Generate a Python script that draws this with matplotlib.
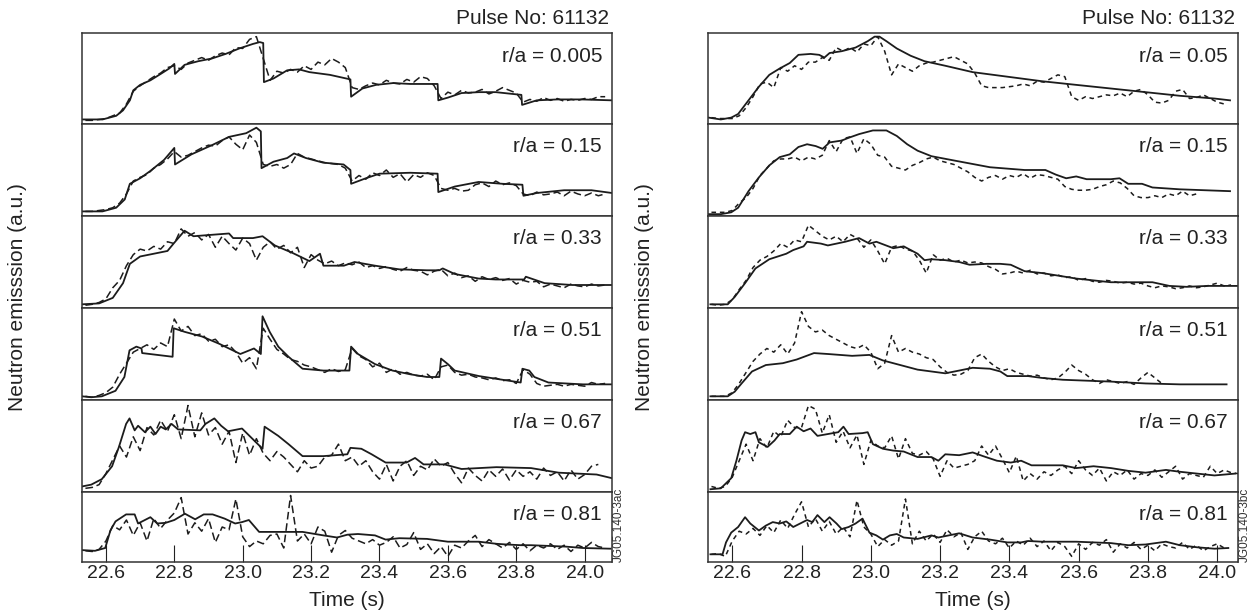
import matplotlib
matplotlib.use("Agg")
import matplotlib.pyplot as plt

plt.rcParams['font.family'] = ['Liberation Sans', 'DejaVu Sans']

# measured signal sampling times (s)
meas_time = [22.54, 22.56, 22.58, 22.60, 22.62, 22.64, 22.66, 22.68, 22.70, 22.72,
             22.74, 22.76, 22.78, 22.80, 22.82, 22.84, 22.86, 22.88, 22.90, 22.92,
             22.94, 22.96, 22.98, 23.00, 23.02, 23.04, 23.06, 23.08, 23.10, 23.12,
             23.14, 23.16, 23.18, 23.20, 23.22, 23.24, 23.26, 23.28, 23.30, 23.32,
             23.34, 23.36, 23.38, 23.40, 23.42, 23.44, 23.46, 23.48, 23.50, 23.52,
             23.54, 23.56, 23.58, 23.60, 23.62, 23.64, 23.66, 23.68, 23.70, 23.72,
             23.74, 23.76, 23.78, 23.80, 23.82, 23.84, 23.86, 23.88, 23.90, 23.92,
             23.94, 23.96, 23.98, 24.00, 24.02, 24.04, 24.06]

radii_left = ["0.005", "0.15", "0.33", "0.51", "0.67", "0.81"]
radii_right = ["0.05", "0.15", "0.33", "0.51", "0.67", "0.81"]

# ---- left: measured (dashed) ----
left_meas_005 = [4, 4, 5, 6, 9, 12, 22, 36, 42, 47,
                 52, 56, 62, 64, 60, 67, 70, 73, 70, 75,
                 78, 76, 84, 83, 93, 96, 72, 48, 58, 56,
                 60, 57, 64, 60, 68, 65, 72, 68, 62, 40,
                 38, 42, 45, 43, 48, 45, 44, 49, 46, 52,
                 50, 42, 28, 35, 32, 37, 34, 35, 38, 33,
                 36, 40, 37, 34, 24, 27, 25, 29, 26, 28,
                 25, 27, 26, 28, 27, 30, 30]
left_meas_015 = [5, 5, 6, 7, 9, 14, 24, 38, 42, 45,
                 52, 56, 62, 70, 64, 66, 70, 74, 77, 76,
                 82, 86, 78, 72, 88, 80, 56, 54, 56, 52,
                 56, 68, 64, 62, 60, 58, 57, 56, 52, 38,
                 44, 40, 47, 44, 50, 42, 46, 37, 45, 42,
                 47, 44, 30, 28, 30, 27, 28, 34, 36, 32,
                 38, 34, 36, 33, 24, 22, 26, 23, 24, 26,
                 22, 27, 24, 22, 25, 22, 24]
left_meas_033 = [3, 4, 6, 10, 22, 30, 46, 58, 64, 62,
                 67, 64, 72, 70, 86, 78, 82, 74, 80, 66,
                 78, 70, 63, 76, 70, 52, 66, 72, 64, 68,
                 60, 66, 44, 58, 52, 48, 51, 46, 49, 47,
                 50, 44, 46, 43, 45, 42, 40, 44, 41, 40,
                 36, 40, 42, 35, 38, 33, 35, 29, 34, 31,
                 33, 30, 32, 26, 30, 28, 29, 23, 26, 24,
                 22, 26, 24, 23, 26, 24, 25]
left_meas_051 = [4, 3, 5, 8, 14, 28, 40, 52, 56, 60,
                 55, 62, 58, 88, 75, 80, 70, 72, 64, 66,
                 58, 60, 52, 40, 46, 34, 78, 66, 55, 50,
                 44, 42, 38, 36, 33, 30, 34, 31, 33, 56,
                 48, 44, 36, 40, 30, 34, 28, 30, 27, 26,
                 28, 22, 36, 38, 30, 27, 28, 25, 24, 22,
                 24, 21, 22, 18, 33, 28, 18, 15, 16, 17,
                 15, 17, 16, 15, 19, 17, 18]
left_meas_067 = [4, 5, 8, 20, 35, 50, 38, 60, 45, 70,
                 62, 78, 66, 84, 58, 94, 60, 86, 62, 70,
                 52, 66, 32, 64, 40, 58, 42, 34, 44, 38,
                 30, 22, 34, 26, 28, 38, 40, 52, 34, 38,
                 28, 34, 22, 14, 30, 12, 28, 34, 18, 28,
                 24, 36, 28, 32, 20, 10, 26, 18, 12, 24,
                 17, 25, 13, 24, 17, 22, 14, 26, 18, 22,
                 12, 24, 14, 19, 28, 30]
left_meas_081 = [16, 15, 18, 30, 52, 46, 60, 38, 56, 30,
                 62, 48, 60, 70, 92, 40, 56, 44, 62, 28,
                 50, 46, 90, 36, 22, 30, 26, 38, 40, 20,
                 95, 30, 40, 26, 50, 44, 14, 38, 45, 34,
                 30, 26, 32, 24, 28, 36, 20, 25, 42, 18,
                 26, 12, 22, 8, 24, 20, 30, 38, 22, 32,
                 26, 20, 28, 18, 26, 16, 24, 20, 26, 18,
                 24, 15, 24, 20, 28, 22, 20]

# ---- left: simulated (solid) ----
left_sim_t_005 = [22.53, 22.59, 22.63, 22.65, 22.67, 22.68, 22.70, 22.73, 22.76, 22.785,
                  22.80, 22.802, 22.83, 22.87, 22.91, 22.95, 22.99, 23.03, 23.05, 23.06,
                  23.062, 23.09, 23.13, 23.165, 23.195, 23.255, 23.315, 23.317, 23.35, 23.39,
                  23.44, 23.49, 23.57, 23.572, 23.60, 23.64, 23.69, 23.74, 23.815, 23.817,
                  23.86, 23.92, 23.99, 24.08]
left_sim_005 = [5, 5, 9, 15, 26, 37, 43, 48, 55, 61,
                66, 55, 65, 69, 72, 77, 83, 88, 90, 89,
                46, 50, 59, 60, 57, 54, 49, 30, 39, 43,
                45, 44, 44, 26, 29, 34, 35, 35, 32, 21,
                26, 27, 27, 26]
left_sim_t_015 = [22.53, 22.59, 22.63, 22.655, 22.67, 22.70, 22.73, 22.77, 22.80, 22.802,
                  22.85, 22.91, 22.96, 23.01, 23.04, 23.053, 23.055, 23.09, 23.13, 23.15,
                  23.185, 23.235, 23.295, 23.315, 23.317, 23.36, 23.40, 23.49, 23.57, 23.572,
                  23.62, 23.69, 23.76, 23.818, 23.821, 23.86, 23.94, 24.02, 24.08]
left_sim_015 = [5, 5, 9, 18, 35, 41, 49, 61, 74, 56,
                67, 77, 86, 90, 96, 92, 52, 59, 63, 68,
                63, 58, 56, 50, 35, 41, 46, 47, 46, 26,
                32, 37, 35, 34, 22, 25, 28, 28, 25]
left_sim_t_033 = [22.53, 22.58, 22.62, 22.65, 22.67, 22.70, 22.74, 22.78, 22.80, 22.83,
                  22.856, 22.89, 22.96, 22.972, 23.03, 23.058, 23.094, 23.145, 23.195, 23.226,
                  23.236, 23.296, 23.327, 23.387, 23.458, 23.539, 23.575, 23.585, 23.62, 23.69,
                  23.74, 23.823, 23.828, 23.883, 23.964, 24.08]
left_sim_033 = [4, 5, 11, 27, 48, 56, 59, 62, 71, 84,
                78, 79, 81, 76, 76, 78, 68, 60, 51, 59,
                46, 46, 50, 46, 42, 41, 41, 43, 37, 32,
                31, 31, 34, 27, 25, 25]
left_sim_t_051 = [22.53, 22.557, 22.588, 22.628, 22.654, 22.669, 22.689, 22.704, 22.706, 22.795,
                  22.798, 22.831, 22.881, 22.932, 22.993, 23.033, 23.053, 23.058, 23.079, 23.104,
                  23.134, 23.175, 23.236, 23.312, 23.317, 23.337, 23.387, 23.438, 23.489, 23.539,
                  23.575, 23.58, 23.60, 23.62, 23.691, 23.742, 23.813, 23.818, 23.838, 23.853,
                  23.894, 23.995, 24.08]
left_sim_051 = [4, 3, 4, 10, 25, 54, 58, 56, 51, 47,
                78, 74, 69, 61, 50, 56, 50, 91, 74, 58,
                47, 34, 32, 32, 58, 50, 39, 32, 28, 25,
                25, 45, 39, 32, 26, 23, 19, 34, 32, 25,
                19, 17, 17]
left_sim_t_067 = [22.53, 22.557, 22.588, 22.618, 22.638, 22.659, 22.669, 22.684, 22.694, 22.714,
                  22.73, 22.745, 22.76, 22.775, 22.792, 22.811, 22.876, 22.891, 22.917, 22.937,
                  22.957, 22.998, 23.058, 23.064, 23.104, 23.134, 23.175, 23.236, 23.306, 23.315,
                  23.347, 23.377, 23.418, 23.479, 23.504, 23.529, 23.59, 23.64, 23.742, 23.843,
                  23.924, 24.035, 24.08]
left_sim_067 = [6, 8, 14, 28, 49, 74, 80, 67, 72, 65,
                71, 63, 71, 68, 74, 68, 67, 74, 80, 72,
                66, 69, 47, 71, 61, 52, 39, 39, 41, 48,
                47, 41, 32, 32, 37, 30, 30, 25, 27, 26,
                21, 19, 15]
left_sim_t_081 = [22.53, 22.568, 22.598, 22.613, 22.628, 22.659, 22.684, 22.694, 22.73, 22.75,
                  22.775, 22.80, 22.831, 22.861, 22.886, 22.912, 22.947, 22.978, 22.998, 23.018,
                  23.048, 23.094, 23.175, 23.236, 23.276, 23.306, 23.337, 23.387, 23.418, 23.458,
                  23.539, 23.60, 23.691, 23.742, 23.772, 23.813, 23.843, 23.894, 23.944, 23.995,
                  24.076]
left_sim_081 = [17, 16, 20, 45, 58, 68, 68, 55, 64, 55,
                56, 60, 69, 61, 68, 68, 62, 55, 57, 60,
                43, 43, 43, 38, 35, 39, 40, 38, 32, 34,
                33, 29, 29, 26, 25, 24, 24, 23, 22, 20,
                19]

# ---- right: measured (dashed) ----
right_meas_005 = [7, 6, 6, 6, 9, 18, 30, 44, 46, 40,
                  62, 58, 64, 60, 68, 68, 73, 70, 84, 80,
                  84, 79, 88, 86, 96, 80, 54, 66, 62, 58,
                  64, 67, 68, 70, 72, 74, 70, 66, 56, 42,
                  40, 40, 40, 41, 42, 44, 42, 47, 46, 50,
                  54, 52, 30, 26, 30, 28, 30, 32, 31, 34,
                  30, 36, 38, 32, 24, 23, 26, 36, 38, 28,
                  29, 32, 28, 24, 22]
right_meas_015 = [4, 4, 4, 6, 14, 20, 30, 44, 52, 60,
                  62, 62, 64, 60, 64, 62, 66, 82, 70, 84,
                  86, 68, 84, 78, 66, 64, 54, 52, 50, 55,
                  58, 62, 64, 60, 58, 56, 52, 48, 42, 38,
                  42, 44, 40, 44, 42, 46, 41, 45, 44, 42,
                  40, 32, 29, 28, 28, 29, 32, 34, 38, 36,
                  30, 22, 20, 20, 22, 20, 24, 22, 27, 22,
                  24]
right_meas_033 = [4, 3, 4, 9, 20, 30, 44, 52, 56, 62,
                  70, 66, 74, 72, 90, 84, 78, 74, 78, 72,
                  80, 76, 66, 74, 62, 48, 66, 68, 64, 62,
                  52, 38, 58, 52, 54, 50, 52, 49, 50, 49,
                  45, 42, 37, 38, 40, 38, 41, 37, 38, 35,
                  36, 33, 34, 30, 32, 29, 28, 30, 29, 27,
                  28, 26, 27, 24, 22, 24, 23, 21, 22, 24,
                  22, 23, 25, 27, 24, 25]
right_meas_051 = [4, 4, 4, 8, 18, 30, 42, 50, 56, 52,
                  60, 50, 62, 96, 80, 74, 76, 70, 66, 62,
                  58, 56, 60, 52, 34, 40, 70, 52, 56, 52,
                  50, 46, 44, 36, 30, 27, 28, 32, 46, 50,
                  42, 36, 32, 34, 30, 28, 26, 27, 24, 22,
                  24, 30, 38, 32, 28, 22, 18, 22, 20, 18,
                  20, 17, 24, 30, 24, 18]
right_meas_067 = [6, 4, 6, 16, 34, 52, 34, 58, 48, 66,
                  60, 78, 70, 70, 94, 90, 64, 84, 54, 66,
                  48, 62, 30, 56, 50, 48, 61, 36, 58, 42,
                  40, 44, 36, 17, 34, 26, 28, 30, 34, 50,
                  40, 50, 36, 21, 39, 12, 20, 14, 22, 18,
                  24, 28, 20, 34, 24, 18, 26, 12, 22, 18,
                  24, 14, 20, 18, 24, 16, 22, 28, 14, 20,
                  18, 16, 28, 20, 24, 21, 20]
right_meas_081 = [11, 12, 8, 30, 44, 40, 48, 38, 52, 42,
                  60, 48, 68, 86, 50, 62, 44, 58, 40, 50,
                  36, 88, 50, 40, 22, 32, 24, 30, 90, 26,
                  44, 30, 40, 28, 46, 36, 42, 18, 36, 44,
                  30, 26, 34, 20, 30, 24, 34, 22, 30, 16,
                  28, 22, 8, 26, 18, 28, 24, 32, 14, 26,
                  20, 28, 18, 24, 16, 26, 22, 20, 28, 18,
                  24, 16, 22, 26, 20]

# ---- right: simulated (solid) ----
right_sim_t_005 = [22.532, 22.567, 22.597, 22.617, 22.647, 22.677, 22.707, 22.737, 22.766, 22.791,
                   22.826, 22.851, 22.866, 22.881, 22.916, 22.956, 22.991, 23.011, 23.025, 23.045,
                   23.075, 23.115, 23.155, 23.215, 23.294, 23.394, 23.494, 23.593, 23.693, 23.793,
                   23.892, 23.992, 24.037]
right_sim_005 = [7, 5, 7, 11, 26, 41, 54, 61, 67, 76,
                 77, 76, 73, 78, 80, 84, 91, 96, 96, 91,
                 83, 75, 69, 64, 57, 52, 47, 43, 39, 35,
                 31, 28, 26]
right_sim_t_015 = [22.532, 22.567, 22.597, 22.617, 22.647, 22.677, 22.707, 22.737, 22.766, 22.791,
                   22.816, 22.841, 22.861, 22.881, 22.916, 22.936, 22.966, 23.006, 23.045, 23.075,
                   23.105, 23.135, 23.175, 23.245, 23.344, 23.444, 23.504, 23.534, 23.564, 23.593,
                   23.623, 23.693, 23.718, 23.743, 23.783, 23.813, 23.892, 24.037]
right_sim_015 = [2, 2, 4, 9, 27, 42, 55, 64, 67, 75,
                 78, 76, 73, 80, 82, 85, 89, 93, 93, 87,
                 78, 71, 65, 60, 53, 50, 50, 45, 41, 43,
                 40, 40, 41, 35, 35, 31, 29, 27]
right_sim_t_033 = [22.537, 22.587, 22.607, 22.637, 22.667, 22.707, 22.756, 22.776, 22.806, 22.816,
                   22.856, 22.876, 22.926, 22.966, 22.996, 23.016, 23.065, 23.095, 23.135, 23.155,
                   23.175, 23.215, 23.255, 23.285, 23.334, 23.374, 23.404, 23.444, 23.494, 23.544,
                   23.593, 23.643, 23.693, 23.753, 23.813, 23.862, 23.912, 23.972, 24.057]
right_sim_033 = [4, 4, 12, 27, 43, 53, 59, 63, 67, 72,
                 70, 68, 72, 76, 70, 72, 65, 67, 59, 52,
                 53, 52, 50, 47, 48, 48, 47, 40, 38, 35,
                 32, 30, 28, 28, 28, 24, 23, 24, 24]
right_sim_t_051 = [22.537, 22.587, 22.607, 22.627, 22.657, 22.697, 22.746, 22.786, 22.836, 22.876,
                   22.946, 22.996, 23.035, 23.075, 23.135, 23.215, 23.255, 23.294, 23.344, 23.374,
                   23.394, 23.454, 23.494, 23.554, 23.693, 23.793, 23.892, 24.027]
right_sim_051 = [4, 4, 9, 18, 31, 38, 40, 44, 51, 50,
                 48, 49, 43, 39, 33, 29, 32, 35, 34, 31,
                 26, 26, 24, 22, 20, 18, 17, 17]
right_sim_t_067 = [22.537, 22.567, 22.597, 22.612, 22.627, 22.637, 22.652, 22.667, 22.677, 22.702,
                   22.722, 22.737, 22.766, 22.786, 22.806, 22.826, 22.846, 22.876, 22.906, 22.921,
                   22.936, 22.976, 22.991, 23.006, 23.035, 23.065, 23.095, 23.135, 23.175, 23.195,
                   23.215, 23.255, 23.294, 23.324, 23.364, 23.404, 23.434, 23.464, 23.494, 23.554,
                   23.593, 23.643, 23.693, 23.743, 23.793, 23.852, 23.892, 23.942, 23.992, 24.052]
right_sim_067 = [3, 4, 15, 34, 56, 65, 63, 65, 54, 49,
                 56, 63, 63, 71, 66, 69, 61, 63, 65, 71,
                 63, 64, 65, 52, 47, 45, 44, 38, 38, 34,
                 41, 40, 43, 39, 34, 32, 34, 29, 29, 29,
                 26, 28, 26, 23, 21, 24, 22, 20, 18, 20]
right_sim_t_081 = [22.537, 22.572, 22.582, 22.597, 22.617, 22.637, 22.652, 22.677, 22.697, 22.717,
                   22.737, 22.756, 22.776, 22.796, 22.816, 22.831, 22.846, 22.866, 22.881, 22.901,
                   22.916, 22.936, 22.956, 22.976, 22.996, 23.016, 23.035, 23.055, 23.075, 23.095,
                   23.135, 23.175, 23.195, 23.235, 23.255, 23.294, 23.344, 23.394, 23.434, 23.454,
                   23.494, 23.593, 23.643, 23.693, 23.743, 23.793, 23.852, 23.892, 23.942, 23.992,
                   24.032]
right_sim_081 = [11, 11, 28, 42, 50, 64, 55, 45, 52, 57,
                 55, 58, 50, 55, 60, 57, 67, 57, 64, 55,
                 47, 50, 55, 62, 42, 38, 32, 38, 40, 35,
                 33, 38, 35, 39, 41, 35, 32, 28, 28, 30,
                 29, 29, 28, 27, 24, 25, 29, 24, 21, 19,
                 20]

left_meas = [left_meas_005, left_meas_015, left_meas_033, left_meas_051, left_meas_067, left_meas_081]
left_sim_t = [left_sim_t_005, left_sim_t_015, left_sim_t_033, left_sim_t_051, left_sim_t_067, left_sim_t_081]
left_sim = [left_sim_005, left_sim_015, left_sim_033, left_sim_051, left_sim_067, left_sim_081]
right_meas = [right_meas_005, right_meas_015, right_meas_033, right_meas_051, right_meas_067, right_meas_081]
right_sim_t = [right_sim_t_005, right_sim_t_015, right_sim_t_033, right_sim_t_051, right_sim_t_067, right_sim_t_081]
right_sim = [right_sim_005, right_sim_015, right_sim_033, right_sim_051, right_sim_067, right_sim_081]

time_ticks = [22.6, 22.8, 23.0, 23.2, 23.4, 23.6, 23.8, 24.0]

W, H = 1260, 614
ink = '#1c1c1c'
fig = plt.figure(figsize=(W / 100, H / 100), dpi=100)

# panel edges in pixels (top of each row, plus bottom)
rows_px = [33, 124, 216, 308, 400, 492, 562]


def draw_side(x0, x1, xlim, radii, meas, sim_t, sim, dash, tag):
    axes = []
    for i in range(6):
        top, bot = rows_px[i], rows_px[i + 1]
        ax = fig.add_axes([x0 / W, 1 - bot / H, (x1 - x0) / W, (bot - top) / H])
        ax.plot(meas_time[:len(meas[i])], meas[i], color=ink, lw=1.1, linestyle=dash)
        ax.plot(sim_t[i], sim[i], color=ink, lw=1.3)
        ax.set_xlim(*xlim)
        ax.set_ylim(0, 100)
        ax.set_yticks([])
        for s in ax.spines.values():
            s.set_linewidth(1.1)
            s.set_color('#333333')
        ax.annotate("r/a = " + radii[i], xy=(1, 1), xycoords='axes fraction',
                    xytext=(-10, -23), textcoords='offset pixels',
                    ha='right', va='center', fontsize=15, color='#222222')
        if i < 5:
            ax.set_xticks([])
        else:
            ax.set_xticks(time_ticks)
            ax.set_xticklabels([f"{t:.1f}" for t in time_ticks])
            ax.tick_params(axis='x', direction='in', length=12, width=0.8,
                           labelsize=14, pad=2, colors='#222222')
        axes.append(ax)
    mid = (x0 + x1) / 2
    fig.text((x1 - 3) / W, 1 - 19 / H, "Pulse No: 61132", ha='right', va='center',
             fontsize=15, color='#222222')
    fig.text(mid / W, 1 - 600 / H, "Time (s)", ha='center', va='center',
             fontsize=15, color='#222222')
    fig.text((x0 - 64) / W, 1 - 297 / H, "Neutron emisssion (a.u.)", rotation=90,
             ha='center', va='center', fontsize=15, color='#222222')
    fig.text((x1 + 7) / W, 1 - 525 / H, tag, rotation=90, ha='center', va='center',
             fontsize=8.5, color='#333333')
    return axes


draw_side(82, 612, (22.53, 24.08), radii_left, left_meas, left_sim_t, left_sim,
          (0, (5, 2.5)), "JG05.140-3ac")
draw_side(708, 1238, (22.53, 24.06), radii_right, right_meas, right_sim_t, right_sim,
          (0, (3, 2.5)), "JG05.140-3bc")

fig.savefig("out.png", dpi=100)
